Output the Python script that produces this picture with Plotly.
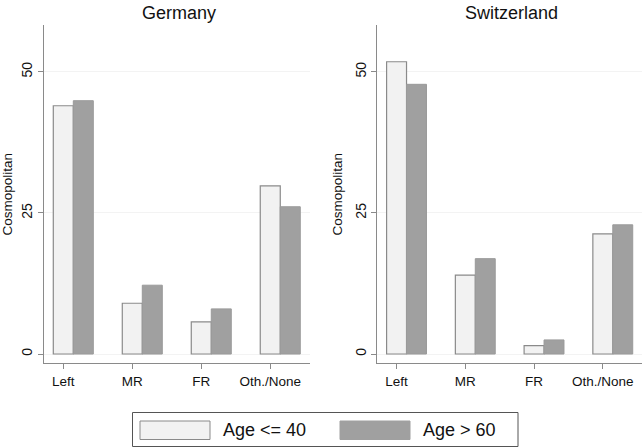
import plotly.graph_objects as go

categories = ["Left", "MR", "FR", "Oth./None"]
countries = ["Germany", "Switzerland"]
germany_young = [44.0, 9.0, 5.7, 29.8]
germany_old = [44.9, 12.2, 8.0, 26.1]
swiss_young = [51.8, 14.0, 1.5, 21.3]
swiss_old = [47.8, 16.9, 2.5, 22.9]
series_names = ["Age <= 40", "Age > 60"]
y_ticks = [0, 25, 50]

LIGHT = "#f2f2f2"
DARK = "#a0a0a0"
FONT = "Liberation Sans, Arial, sans-serif"

fig = go.Figure()
xpos = list(range(len(categories)))
data = [(germany_young, germany_old), (swiss_young, swiss_old)]
for i, (young, old) in enumerate(data):
    xa = "x" if i == 0 else "x2"
    ya = "y" if i == 0 else "y2"
    fig.add_trace(go.Bar(x=xpos, y=young, name=series_names[0], xaxis=xa, yaxis=ya,
                         marker=dict(color=LIGHT, line=dict(color="#8a8a8a", width=1.2)),
                         showlegend=False, offsetgroup="a"))
    fig.add_trace(go.Bar(x=xpos, y=old, name=series_names[1], xaxis=xa, yaxis=ya,
                         marker=dict(color=DARK, line=dict(color="#9a9a9a", width=1)),
                         showlegend=False, offsetgroup="b"))

# ticks at centers of the first bar in each group
bar_w = 0.29
tick_pos = [x - bar_w / 2 for x in xpos]

common_x = dict(range=[-0.425, 3.43], tickvals=tick_pos, ticktext=categories,
                showline=True, linecolor="#8a8a8a", linewidth=1,
                ticks="outside", ticklen=5, tickcolor="#8a8a8a",
                showgrid=False, zeroline=False,
                tickfont=dict(family=FONT, size=13.5, color="#111"))
common_y = dict(range=[-1.65, 58.3], tickvals=y_ticks, tickangle=-90,
                showline=True, linecolor="#8a8a8a", linewidth=1,
                ticks="outside", ticklen=5, tickcolor="#8a8a8a",
                showgrid=True, gridcolor="#f3f3f3", gridwidth=1, zeroline=False,
                tickfont=dict(family=FONT, size=14, color="#111"),
                title=dict(text="Cosmopolitan", font=dict(family=FONT, size=13.5, color="#111"),
                           standoff=6))

fig.update_layout(
    width=643, height=448,
    margin=dict(l=0, r=0, t=0, b=0),
    paper_bgcolor="white", plot_bgcolor="white",
    barmode="group", bargap=0.42, bargroupgap=0.0,
    xaxis=dict(domain=[0.0684, 0.482], anchor="y", **common_x),
    yaxis=dict(domain=[0.189, 0.944], anchor="x", **common_y),
    xaxis2=dict(domain=[0.5868, 0.999], anchor="y2", **common_x),
    yaxis2=dict(domain=[0.189, 0.944], anchor="x2", **common_y),
    showlegend=False,
)

# panel titles
for name, xc in zip(countries, [0.278, 0.795]):
    fig.add_annotation(text=name, xref="paper", yref="paper", x=xc, y=1 - 13 / 448,
                       showarrow=False, font=dict(family=FONT, size=18, color="#111"),
                       xanchor="center", yanchor="middle")

# legend box drawn manually (wide swatches like the original)
def px_x(p):
    return p / 643

def px_y(p):
    return 1 - p / 448

fig.add_shape(type="rect", xref="paper", yref="paper",
              x0=px_x(132.5), x1=px_x(518), y0=px_y(446.5), y1=px_y(412.5),
              line=dict(color="#555", width=1), fillcolor="white")
legend_items = [(series_names[0], LIGHT, "#8a8a8a", 140, 221), (series_names[1], DARK, DARK, 340, 421)]
for label, fill, edge, sx, tx in legend_items:
    fig.add_shape(type="rect", xref="paper", yref="paper",
                  x0=px_x(sx), x1=px_x(sx + 70), y0=px_y(439.5), y1=px_y(421),
                  line=dict(color=edge, width=1), fillcolor=fill)
    fig.add_annotation(text=label, xref="paper", yref="paper", x=px_x(tx), y=px_y(430),
                       showarrow=False, xanchor="left", yanchor="middle",
                       font=dict(family=FONT, size=18, color="#111"))

fig.write_html("out.html", config={"displayModeBar": False},
               post_script="document.body.style.margin='0px';")
